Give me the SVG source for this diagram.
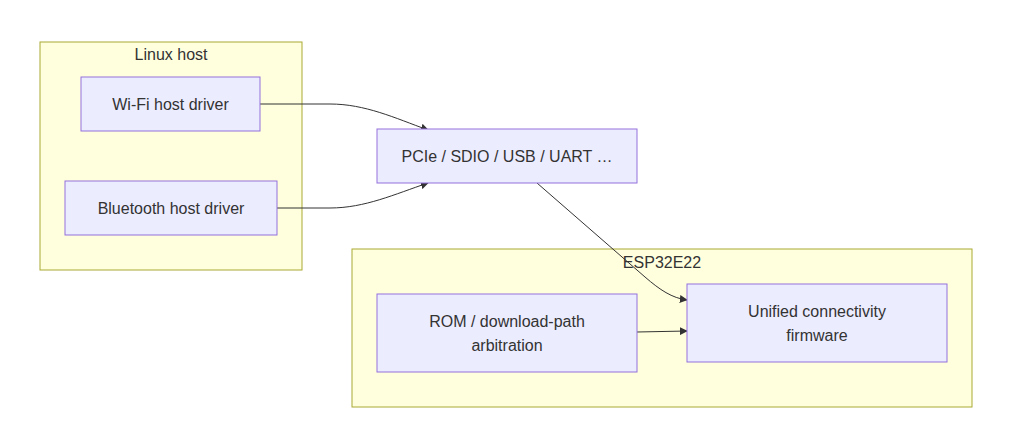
<svg xmlns="http://www.w3.org/2000/svg" width="1010" height="448" viewBox="0 0 1010 448">
<defs>
<style>
.cluster{fill:#ffffde;stroke:#aaaa33;stroke-width:1}
.node{fill:#ececff;stroke:#9370db;stroke-width:1}
text{font-family:"Liberation Sans",Arial,sans-serif;font-size:16px;fill:#333;text-anchor:middle;dominant-baseline:central}
.edge{fill:none;stroke:#333;stroke-width:1}
</style>
<marker id="arrow" viewBox="0 0 10 10" refX="9" refY="5" markerWidth="8" markerHeight="8" orient="auto" markerUnits="userSpaceOnUse">
<path d="M0,0 L10,5 L0,10 z" fill="#333"/>
</marker>
</defs>
<rect width="1010" height="448" fill="#ffffff"/>
<g id="cluster-linux">
<rect class="cluster" x="40" y="42" width="262" height="228"/>
<text x="171" y="54">Linux host</text>
</g>
<g id="cluster-esp">
<rect class="cluster" x="352" y="249" width="620" height="158"/>
<text x="662" y="262">ESP32E22</text>
</g>
<g id="edges">
<path class="edge" d="M260,104 L330,104 C365,104 395,118 428,130" marker-end="url(#arrow)"/>
<path class="edge" d="M277,208 L330,208 C365,208 395,194 428,183" marker-end="url(#arrow)"/>
<path class="edge" d="M537,183 L645,277 C660,290 672,298 687,300" marker-end="url(#arrow)"/>
<path class="edge" d="M637,332 L687,331" marker-end="url(#arrow)"/>
</g>
<g id="node-wifi">
<rect class="node" x="81" y="77" width="179" height="54"/>
<text x="170.5" y="104">Wi-Fi host driver</text>
</g>
<g id="node-bt">
<rect class="node" x="65" y="181" width="212" height="54"/>
<text x="171" y="208">Bluetooth host driver</text>
</g>
<g id="node-bus">
<rect class="node" x="377" y="129" width="260" height="54"/>
<text x="507" y="156">PCIe / SDIO / USB / UART …</text>
</g>
<g id="node-rom">
<rect class="node" x="377" y="294" width="260" height="78"/>
<text x="507" y="321">ROM / download-path</text>
<text x="507" y="345">arbitration</text>
</g>
<g id="node-fw">
<rect class="node" x="687" y="284" width="260" height="78"/>
<text x="817" y="311">Unified connectivity</text>
<text x="817" y="335">firmware</text>
</g>
</svg>
